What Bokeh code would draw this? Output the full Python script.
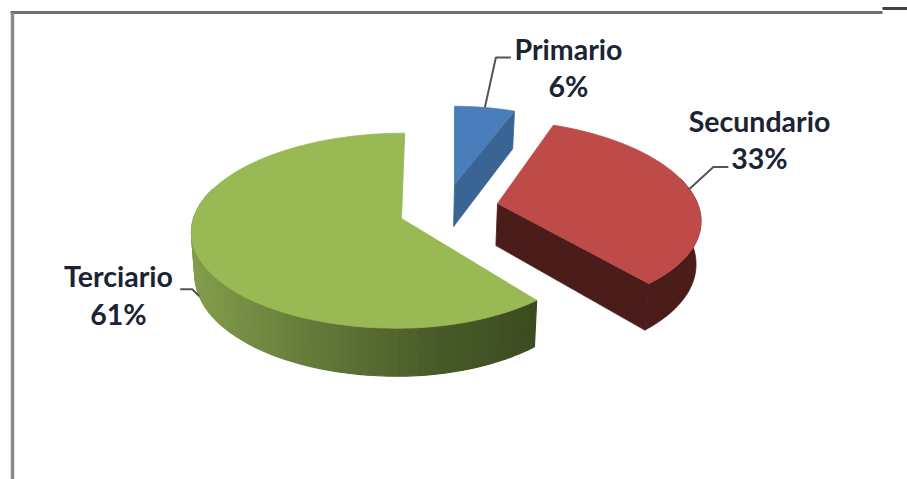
import numpy as np
from bokeh.plotting import figure
from bokeh.models import Range1d
from bokeh.core.properties import value
from bokeh.embed import file_html
from bokeh.resources import INLINE

categories = ["Primario", "Secundario", "Terciario"]
shares = [6, 33, 61]
percent_labels = ["6%", "33%", "61%"]

# look of each slice, in pixel space of the page
FACE = ["#4a7ebb", "#be4b48", "#98b954"]
WALL = ["#3a6494", "#4a1c1a", None]
APEX = [(454, 184), (497, 203), (401, 218)]
RX_LEFT = [182, 200, 208]
RX_RIGHT = [182, 200, 196]
RY = [88, 94, 96]
VANISH = [454, 400, 430]
DEPTH = 42
PERSP = 0.125
VANISH_X = 400
CONVERGE = 0.0165
LABEL_XY = [(568, 48, 85), (759, 120, 157), (118, 275, 313)]
LEADER = [((11, -50), (26, -50)), ((24, -22), (39, -22)), ((-7, -7), (-19, -7))]
TEXT_COLOR = "#1a2433"
LEADER_COLOR = "#555555"
FRAME_COLOR = "#6f6f6f"

GRAD_X = [190, 300, 440, 535]
GRAD_R = [132, 102, 72, 60]
GRAD_G = [158, 126, 90, 76]
GRAD_B = [76, 60, 40, 34]


def rim(i, t):
    ax, ay = APEX[i]
    u, v = np.cos(t), np.sin(t)
    rx = np.where(u < 0, RX_LEFT[i], RX_RIGHT[i])
    s = 1 / (1 + PERSP * v)
    x = ax + rx * u * s + (ax - VANISH[i]) * (s - 1)
    y = ay - RY[i] * v * s
    return x, y, s


def drop(x, y, s):
    return x - (x - VANISH_X) * CONVERGE, y + DEPTH * s


# slices run clockwise from 12 o'clock, angle given by their share
total = sum(shares)
edges = np.cumsum([0] + shares) / total * 2 * np.pi
starts = np.pi / 2 - edges[:-1]
ends = np.pi / 2 - edges[1:]

p = figure(width=907, height=479, x_range=Range1d(0, 907), y_range=Range1d(479, 0),
           output_backend="svg", toolbar_location=None, min_border=0)
p.axis.visible = False
p.grid.visible = False
p.outline_line_color = None
p.background_fill_color = "white"
p.border_fill_color = "white"

# frame remains of the surrounding screenshot
p.segment(x0=[10, 12, 882], y0=[12, 12, 8], x1=[882, 12, 907], y1=[12, 479, 8],
          line_color=[FRAME_COLOR, "#8a8a8a", "#444444"], line_width=[3, 3.5, 3])

for i in [2, 0, 1]:
    ts = np.linspace(starts[i], ends[i], 90)
    x, y, s = rim(i, ts)
    bx, by = drop(x, y, s)
    ax, ay = APEX[i]
    abx, aby = drop(ax, ay, 1.0)
    front = np.sin(ts) < 0.3

    if WALL[i] is None:
        # outer wall shaded along its length
        xs, ys, cols = [], [], []
        for k in range(len(ts) - 1):
            if not front[k]:
                continue
            xs.append([x[k], x[k + 1], bx[k + 1], bx[k]])
            ys.append([y[k], y[k + 1], by[k + 1], by[k]])
            mx = (x[k] + x[k + 1]) / 2
            r = int(np.interp(mx, GRAD_X, GRAD_R))
            g = int(np.interp(mx, GRAD_X, GRAD_G))
            b = int(np.interp(mx, GRAD_X, GRAD_B))
            cols.append(f"#{r:02x}{g:02x}{b:02x}")
        p.patches(xs, ys, fill_color=cols, line_color=cols, line_width=1.2)
    else:
        # outer wall, only where it faces the viewer
        if front.any():
            fx, fy, fbx, fby = x[front], y[front], bx[front], by[front]
            p.patch(np.r_[fx, fbx[::-1]], np.r_[fy, fby[::-1]],
                    fill_color=WALL[i], line_color=WALL[i], line_width=0.8)
        # cut wall on the clockwise edge
        p.patch([ax, x[-1], bx[-1], abx], [ay, y[-1], by[-1], aby],
                fill_color=WALL[i], line_color=WALL[i], line_width=0.8)

    # top face
    p.patch(np.r_[ax, x], np.r_[ay, y], fill_color=FACE[i], line_color=FACE[i], line_width=0.8)

# leaders start at the rim point of each slice's mid angle
for i in range(3):
    mid = (starts[i] + ends[i]) / 2
    x0, y0, s0 = rim(i, mid)
    if WALL[i] is None:
        x0, y0 = drop(x0, y0, s0)
    (dx1, dy1), (dx2, dy2) = LEADER[i]
    p.line([x0, x0 + dx1, x0 + dx2], [y0, y0 + dy1, y0 + dy2], line_color=LEADER_COLOR, line_width=2)

for i in range(3):
    lx, y1, y2 = LABEL_XY[i]
    p.text([lx, lx], [y1, y2], text=[categories[i], percent_labels[i]],
           text_font=value("Lato"), text_font_style="bold", text_font_size="28.5px",
           text_color=TEXT_COLOR, text_align="center", text_baseline="middle")

open("out.html", "w").write(file_html(p, INLINE))
